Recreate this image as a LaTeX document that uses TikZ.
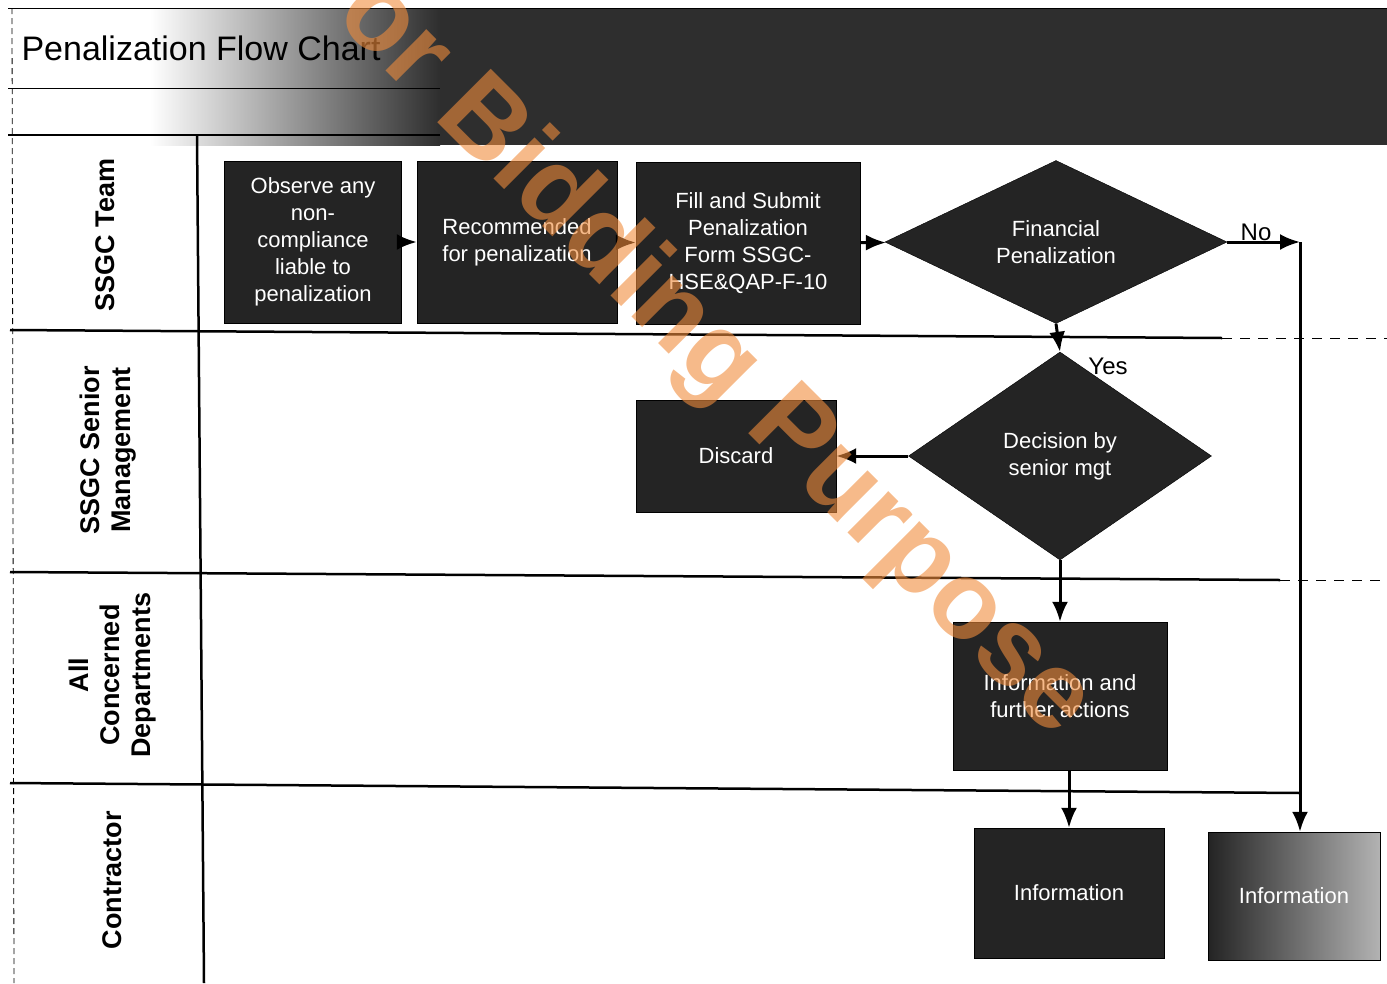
\documentclass[tikz,border=0pt]{standalone}
\usepackage{fontspec}
\setmainfont{Liberation Sans}
\usetikzlibrary{shapes.geometric,arrows.meta}
\definecolor{wmark}{RGB}{240,140,60}

\begin{document}
\begin{tikzpicture}[x=1pt,y=-1pt,
  >={Latex[length=20pt,width=16pt]},
  flowbox/.style={draw=black,fill=black!86,text=white,inner sep=2pt,align=center,
    font=\fontsize{22}{27}\selectfont},
  flowdiam/.style={diamond,draw=black,fill=black!86,text=white,inner sep=0pt,align=center,
    font=\fontsize{22}{27}\selectfont},
  lanelabel/.style={rotate=90,align=center,font=\bfseries\fontsize{27}{31}\selectfont},
  laneline/.style={line width=2.5pt},
  flow/.style={->,line width=3pt}]
\useasboundingbox (0,0) rectangle (1387,983);

% title band
\shade[left color=white,right color=black!82] (150,8) rectangle (440,145);
\fill[black!82] (440,8) rectangle (1387,145);
\draw[thick] (8,8) -- (1387,8);
\draw[thick] (8,88) -- (440,88);
\draw[laneline] (8,135) -- (440,135);
\node[anchor=west,font=\fontsize{34}{40}\selectfont] (title) at (18,48) {Penalization Flow Chart};

% lanes
\draw[thick,dash pattern=on 6pt off 4pt] (12,8) -- (14,983);
\draw[laneline] (197,135) -- (204,983);
\draw[laneline] (10,330) -- (1222,338);
\draw[laneline] (10,572) -- (1280,580);
\draw[laneline] (10,783) -- (1300,793);
\draw[thick,dash pattern=on 10pt off 8pt] (1222,338) -- (1387,338);
\draw[thick,dash pattern=on 10pt off 8pt] (1280,580) -- (1387,580);

\node[lanelabel] (lteam) at (105,235) {SSGC Team};
\node[lanelabel] (lsenior) at (108,450) {SSGC Senior\\Management};
\node[lanelabel] (lconc) at (113,675) {All\\Concerned\\Departments};
\node[lanelabel] (lcontr) at (112,880) {Contractor};

% steps
\node[flowbox,minimum width=177,minimum height=162] (observe) at (313,242) {Observe any\\non-\\compliance\\liable to\\penalization};
\node[flowbox,minimum width=200,minimum height=162] (recommend) at (517,242) {Recommended\\for penalization};
\node[flowbox,minimum width=224,minimum height=162] (fillform) at (748,243) {Fill and Submit\\Penalization\\Form SSGC-\\HSE\&QAP-F-10};
\node[flowdiam,minimum width=342,minimum height=155] (financial) at (1056,242) {Financial\\Penalization};
\node[flowdiam,minimum width=303,minimum height=208] (decision) at (1060,456) {Decision by\\senior mgt};
\node[flowbox,minimum width=200,minimum height=112] (discard) at (736,456) {Discard};
\node[flowbox,minimum width=214,minimum height=148] (infoact) at (1060,696) {Information and\\further actions};
\node[flowbox,minimum width=190,minimum height=130] (infoa) at (1069,893) {Information};
\node[flowbox,left color=black!86,right color=black!30,minimum width=172,minimum height=128] (infob) at (1294,896) {Information};

\coordinate (noturn) at (1300,242);

% connectors
\draw[flow] (observe) -- (recommend);
\draw[flow] (recommend) -- (fillform);
\draw[flow] (fillform) -- (financial);
\draw[flow] (financial.east) -- (noturn);
\draw[flow] (noturn) -- (noturn |- infob.north);
\draw[flow] (financial.south) -- (decision.north);
\draw[flow] (decision.west) -- (discard.east);
\draw[flow] (decision.south) -- (infoact.north);
\draw[flow] (infoa.north |- infoact.south) -- (infoa.north);

\node[font=\fontsize{24}{28}\selectfont] (nolabel) at (1256,232) {No};
\node[font=\fontsize{24}{28}\selectfont] (yeslabel) at (1108,366) {Yes};

% watermark
\node[rotate=-45,text=wmark,text opacity=0.6,font=\bfseries\fontsize{110}{120}\selectfont] (stamp) at (690,335) {For Bidding Purpose};
\end{tikzpicture}
\end{document}
